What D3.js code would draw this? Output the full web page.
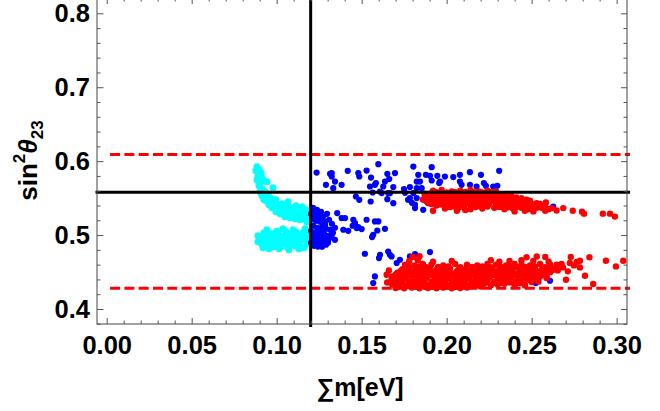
<!DOCTYPE html>
<html>
<head>
<meta charset="utf-8">
<script src="https://cdn.jsdelivr.net/npm/d3@7"></script>
<style>
  html, body { margin: 0; padding: 0; background: #fff; }
  svg { display: block; }
  text { font-family: "Liberation Sans", Arial, sans-serif; font-weight: bold; fill: #000; }
</style>
</head>
<body>
<svg id="chart" width="660" height="411"></svg>
<script>
// Axis ticks and labels
const xTicksMajor = [0.00, 0.05, 0.10, 0.15, 0.20, 0.25, 0.30];
const xTickLabels = ["0.00", "0.05", "0.10", "0.15", "0.20", "0.25", "0.30"];
const xTicksMinor = [0.01, 0.02, 0.03, 0.04, 0.06, 0.07, 0.08, 0.09, 0.11, 0.12, 0.13, 0.14,
                     0.16, 0.17, 0.18, 0.19, 0.21, 0.22, 0.23, 0.24, 0.26, 0.27, 0.28, 0.29];
const yTicksMajor = [0.4, 0.5, 0.6, 0.7, 0.8];
const yTickLabels = ["0.4", "0.5", "0.6", "0.7", "0.8"];
const yTicksMinor = [0.38, 0.42, 0.44, 0.46, 0.48, 0.52, 0.54, 0.56, 0.58,
                     0.62, 0.64, 0.66, 0.68, 0.72, 0.74, 0.76, 0.78];

// Reference lines: best-fit sum of masses / sin^2 theta23 and 3 sigma bounds
const bestFitX = [0.12];
const bestFitY = [0.558];
const sigmaBoundsY = [0.609, 0.428];

// Scan points (sum of masses [eV], sin^2 theta23)
const cyanPts = [
  [0.0884,0.5923],[0.0878,0.5869],[0.0896,0.5882],[0.0908,0.5842],[0.0890,0.5801],[0.0914,0.5774],
  [0.0884,0.5747],[0.0902,0.5720],[0.0925,0.5734],[0.0943,0.5720],[0.0978,0.5639],[0.0896,0.5666],
  [0.0914,0.5626],[0.0931,0.5585],[0.0902,0.5585],
  [0.0914,0.5531],[0.0937,0.5531],[0.0961,0.5504],[0.0925,0.5477],[0.0949,0.5450],[0.0972,0.5463],
  [0.0996,0.5477],[0.0984,0.5423],[0.1008,0.5409],[0.1031,0.5423],[0.1020,0.5369],[0.1043,0.5369],
  [0.1067,0.5382],[0.1055,0.5328],[0.1078,0.5328],[0.1102,0.5355],[0.1090,0.5288],[0.1114,0.5301],
  [0.1137,0.5315],[0.1125,0.5261],[0.1149,0.5261],[0.1167,0.5288],[0.1161,0.5220],[0.1184,0.5234],
  [0.1196,0.5261],[0.1178,0.5180],[0.1202,0.5193],[0.1020,0.5288],[0.1049,0.5247],[0.1078,0.5234],
  [0.1108,0.5220],[0.1137,0.5207],[0.0996,0.5315],[0.0972,0.5369],[0.1114,0.5396],[0.1149,0.5382],
  [0.1172,0.5342],[0.1043,0.5288],[0.1067,0.5450],[0.0949,0.5531],
  [0.0955,0.5410],[0.0985,0.5370],[0.1010,0.5330],[0.1035,0.5320],[0.1060,0.5290],[0.1095,0.5260],
  [0.1120,0.5250],[0.1155,0.5230],[0.1185,0.5200],[0.0935,0.5470],[0.1080,0.5370],[0.1150,0.5330],
  [0.0890,0.4991],[0.0890,0.4909],[0.0908,0.4950],[0.0914,0.4869],[0.0925,0.5031],[0.0931,0.4936],
  [0.0943,0.5072],[0.0949,0.4977],[0.0949,0.4869],[0.0966,0.4923],[0.0972,0.5018],[0.0984,0.4842],
  [0.0990,0.4964],[0.1002,0.4896],[0.1008,0.5031],[0.1020,0.4936],[0.1025,0.4842],[0.1037,0.5085],
  [0.1043,0.4991],[0.1049,0.4896],[0.1061,0.4950],[0.1067,0.4828],[0.1078,0.5018],[0.1084,0.4882],
  [0.1096,0.5072],[0.1102,0.4964],[0.1108,0.4855],[0.1120,0.4923],[0.1131,0.5004],[0.1137,0.4855],
  [0.1149,0.4936],[0.1155,0.5031],[0.1161,0.4828],[0.1172,0.4964],[0.1178,0.4882],[0.1190,0.5004],
  [0.1196,0.4909],[0.1131,0.4815],[0.1072,0.4801],[0.1014,0.4815],[0.0955,0.4815],[0.0920,0.4828],
  [0.1055,0.5045],[0.1114,0.5045],[0.1167,0.5085],
  [0.0905,0.4930],[0.0935,0.4990],[0.0960,0.4880],[0.0985,0.4940],[0.1010,0.4990],[0.1035,0.4880],
  [0.1060,0.4990],[0.1085,0.4930],[0.1110,0.4990],[0.1130,0.4900],[0.1160,0.4960],[0.1185,0.4940],
  [0.1000,0.5050],[0.1120,0.4850],[0.0970,0.4840]
];

const bluePts = [
  [0.1214,0.5369],[0.1237,0.5342],[0.1261,0.5315],[0.1220,0.5301],[0.1243,0.5261],[0.1273,0.5247],
  [0.1296,0.5288],[0.1208,0.5220],[0.1231,0.5193],[0.1255,0.5180],[0.1284,0.5180],[0.1308,0.5207],
  [0.1325,0.5153],[0.1214,0.5126],[0.1237,0.5099],[0.1267,0.5112],[0.1290,0.5085],[0.1314,0.5072],
  [0.1220,0.5031],[0.1243,0.5004],[0.1267,0.5031],[0.1296,0.4991],[0.1320,0.4977],[0.1208,0.4950],
  [0.1231,0.4923],[0.1255,0.4936],[0.1278,0.4909],[0.1302,0.4896],[0.1220,0.4855],[0.1243,0.4845],
  [0.1267,0.4842],[0.1290,0.4869],[0.1202,0.4896],[0.1202,0.5058],[0.1202,0.5288],[0.1343,0.5099],
  [0.1331,0.5031],[0.1249,0.4882],[0.1273,0.4964],[0.1225,0.5234],
  [0.1230,0.5270],[0.1260,0.5230],[0.1285,0.5140],[0.1250,0.5060],[0.1280,0.5010],[0.1225,0.4980],
  [0.1305,0.4940],[0.1260,0.4880],
  [0.1235,0.5846],[0.1314,0.5828],[0.1324,0.5792],[0.1343,0.5724],[0.1290,0.5680],[0.1333,0.5635],
  [0.1382,0.5680],[0.1418,0.5869],[0.1480,0.5838],[0.1486,0.5792],[0.1529,0.5873],[0.1598,0.5959],
  [0.1555,0.5778],[0.1584,0.5703],[0.1549,0.5657],[0.1565,0.5576],[0.1651,0.5828],[0.1696,0.5838],
  [0.1637,0.5724],[0.1662,0.5757],[0.1627,0.5657],[0.1608,0.5589],[0.1656,0.5568],[0.1651,0.5486],
  [0.1686,0.5432],[0.1553,0.5454],[0.1466,0.5522],[0.1486,0.5477],[0.1324,0.5838],[0.1578,0.5680],
  [0.1686,0.5649],[0.1749,0.5622],[0.1961,0.5724],[0.1667,0.5568],[0.1618,0.5568],
  [0.1804,0.5927],[0.1912,0.5919],[0.1833,0.5815],[0.1878,0.5815],[0.1902,0.5801],[0.1945,0.5801],
  [0.1990,0.5792],[0.2039,0.5784],[0.2078,0.5815],[0.2137,0.5851],[0.2202,0.5815],[0.2309,0.5869],
  [0.1824,0.5724],[0.1843,0.5724],[0.1912,0.5738],[0.1956,0.5703],[0.2078,0.5724],[0.2088,0.5680],
  [0.2137,0.5680],[0.2176,0.5657],[0.2219,0.5703],[0.2231,0.5666],[0.2274,0.5657],[0.2298,0.5666],
  [0.1784,0.5649],[0.1824,0.5635],[0.1853,0.5635],[0.1804,0.5568],[0.1784,0.5500],[0.1824,0.5500],
  [0.1872,0.5477],[0.1814,0.5365],[0.1862,0.5342],[0.1971,0.5568],[0.2245,0.5589],[0.2627,0.5386],
  [0.1892,0.5432],[0.1755,0.5572],[0.1773,0.5477],[0.1796,0.5436],[0.1814,0.5409],
  [0.1356,0.5297],[0.1382,0.5230],[0.1402,0.5230],[0.1451,0.5207],[0.1461,0.5162],[0.1529,0.5207],
  [0.1578,0.5184],[0.1598,0.5184],[0.1392,0.5072],[0.1421,0.5058],[0.1447,0.5126],[0.1471,0.5095],
  [0.1500,0.5081],[0.1480,0.5108],[0.1592,0.5062],[0.1637,0.5085],[0.1568,0.5004],[0.1561,0.4973],
  [0.1343,0.4936],[0.1324,0.5004],
  [0.1519,0.4747],[0.1608,0.4734],[0.1602,0.4689],[0.1656,0.4778],[0.1666,0.4734],[0.1676,0.4711],
  [0.1725,0.4666],[0.1784,0.4711],[0.1578,0.4441],[0.1568,0.4351],[0.1706,0.4622],[0.1814,0.4743],
  [0.1902,0.4770],[0.2524,0.4351],[0.2608,0.4382],[0.2214,0.4373]
];

const redPts = [
  // upper branch
  [0.192,0.560],[0.197,0.561],[0.203,0.559],[0.208,0.560],[0.214,0.561],[0.219,0.559],[0.224,0.560],[0.229,0.559],
  [0.194,0.558],[0.200,0.5575],[0.205,0.558],[0.211,0.5585],[0.216,0.558],[0.221,0.5575],[0.226,0.558],
  [0.187,0.556],[0.191,0.557],[0.195,0.555],[0.199,0.556],[0.203,0.557],[0.207,0.555],[0.211,0.556],[0.215,0.557],
  [0.219,0.555],[0.223,0.556],[0.227,0.557],[0.231,0.555],
  [0.190,0.554],[0.194,0.5545],[0.198,0.554],[0.202,0.5535],[0.206,0.554],[0.210,0.5545],[0.214,0.554],
  [0.218,0.5535],[0.222,0.554],[0.226,0.5545],[0.230,0.554],[0.234,0.5535],[0.238,0.554],
  [0.188,0.552],[0.192,0.553],[0.196,0.551],[0.200,0.552],[0.204,0.553],[0.208,0.551],[0.212,0.552],[0.216,0.553],
  [0.220,0.551],[0.224,0.552],[0.228,0.553],[0.232,0.551],[0.236,0.552],[0.241,0.551],
  [0.187,0.550],[0.191,0.5495],[0.195,0.550],[0.199,0.5505],[0.203,0.550],[0.207,0.5495],[0.211,0.550],
  [0.215,0.5505],[0.219,0.550],[0.223,0.5495],[0.227,0.550],[0.231,0.5505],[0.235,0.550],[0.239,0.5495],[0.244,0.550],
  [0.186,0.548],[0.190,0.549],[0.194,0.547],[0.198,0.548],[0.202,0.549],[0.206,0.547],[0.210,0.548],[0.214,0.549],
  [0.218,0.547],[0.222,0.548],[0.226,0.549],[0.230,0.547],[0.234,0.548],[0.238,0.549],[0.242,0.547],[0.247,0.548],
  [0.188,0.546],[0.192,0.5455],[0.196,0.546],[0.200,0.5465],[0.204,0.546],[0.208,0.5455],[0.212,0.546],
  [0.216,0.5465],[0.220,0.546],[0.224,0.5455],[0.228,0.546],[0.232,0.5465],[0.236,0.546],[0.240,0.5455],
  [0.244,0.546],[0.249,0.5465],
  [0.189,0.544],[0.193,0.545],[0.197,0.543],[0.201,0.544],[0.205,0.545],[0.209,0.543],[0.213,0.544],[0.217,0.545],
  [0.221,0.543],[0.225,0.544],[0.229,0.545],[0.233,0.543],[0.237,0.544],[0.241,0.545],[0.245,0.543],[0.249,0.544],
  [0.253,0.543],
  [0.191,0.542],[0.196,0.5415],[0.201,0.542],[0.206,0.5425],[0.211,0.542],[0.216,0.5415],[0.220,0.542],
  [0.225,0.5425],[0.231,0.542],[0.235,0.5415],[0.239,0.542],[0.243,0.5425],[0.247,0.542],[0.251,0.5415],[0.255,0.542],
  [0.194,0.540],[0.199,0.541],[0.204,0.539],[0.209,0.540],[0.214,0.541],[0.219,0.539],[0.224,0.540],[0.229,0.541],
  [0.233,0.539],[0.237,0.540],[0.241,0.541],[0.245,0.539],[0.249,0.540],[0.253,0.541],[0.257,0.539],
  [0.202,0.538],[0.210,0.5375],[0.217,0.538],[0.224,0.5385],[0.231,0.538],[0.236,0.5375],[0.241,0.538],
  [0.246,0.5385],[0.250,0.538],[0.254,0.5375],[0.258,0.538],
  [0.199,0.536],[0.207,0.537],[0.214,0.535],[0.221,0.536],[0.228,0.537],[0.234,0.535],[0.239,0.536],[0.244,0.537],
  [0.248,0.535],[0.252,0.536],[0.256,0.537],[0.260,0.535],
  [0.192,0.533],[0.206,0.533],[0.211,0.534],[0.240,0.532],[0.246,0.533],[0.251,0.532],[0.258,0.533],
  [0.2742,0.533],[0.2796,0.5315],[0.2808,0.529],[0.2919,0.529],[0.2961,0.529],[0.2990,0.525],
  [0.2686,0.5365],[0.2647,0.5332],[0.2584,0.544],[0.2618,0.5365],[0.2449,0.5454],
  // lower branch
  [0.170,0.4285],[0.175,0.428],[0.1795,0.429],[0.184,0.428],[0.189,0.4285],[0.194,0.428],[0.198,0.429],
  [0.203,0.428],[0.208,0.4285],[0.212,0.429],
  [0.172,0.4305],[0.177,0.431],[0.182,0.4305],[0.187,0.430],[0.191,0.4305],[0.196,0.431],[0.200,0.4305],
  [0.205,0.430],[0.210,0.4305],[0.215,0.431],[0.220,0.4305],
  [0.168,0.433],[0.172,0.434],[0.176,0.432],[0.181,0.433],[0.185,0.434],[0.189,0.432],[0.193,0.433],[0.197,0.434],
  [0.201,0.432],[0.205,0.433],[0.209,0.434],[0.213,0.432],[0.218,0.433],[0.222,0.434],[0.226,0.432],[0.230,0.433],
  [0.234,0.434],[0.240,0.432],[0.246,0.433],
  [0.170,0.4355],[0.174,0.436],[0.178,0.435],[0.183,0.4355],[0.187,0.436],[0.191,0.435],[0.195,0.4355],
  [0.199,0.436],[0.203,0.435],[0.207,0.4355],[0.211,0.436],[0.216,0.435],[0.220,0.4355],[0.224,0.436],
  [0.228,0.435],[0.232,0.4355],[0.237,0.436],[0.243,0.435],
  [0.170,0.438],[0.174,0.439],[0.178,0.437],[0.182,0.438],[0.186,0.439],[0.191,0.437],[0.195,0.438],[0.199,0.439],
  [0.203,0.437],[0.207,0.438],[0.211,0.439],[0.215,0.437],[0.219,0.438],[0.223,0.439],[0.228,0.437],[0.232,0.438],
  [0.236,0.439],[0.240,0.437],[0.244,0.438],[0.249,0.439],[0.254,0.437],
  [0.172,0.441],[0.176,0.4415],[0.180,0.4405],[0.184,0.441],[0.188,0.4415],[0.193,0.4405],[0.197,0.441],
  [0.201,0.4415],[0.205,0.4405],[0.209,0.441],[0.213,0.4415],[0.217,0.4405],[0.221,0.441],[0.225,0.4415],
  [0.230,0.4405],[0.234,0.441],[0.238,0.4415],[0.242,0.4405],[0.247,0.441],[0.252,0.4415],
  [0.168,0.444],[0.172,0.443],[0.176,0.445],[0.181,0.444],[0.185,0.443],[0.189,0.445],[0.193,0.444],[0.197,0.443],
  [0.201,0.445],[0.205,0.444],[0.209,0.443],[0.213,0.445],[0.218,0.444],[0.222,0.443],[0.226,0.445],[0.230,0.444],
  [0.234,0.443],[0.238,0.445],[0.242,0.444],[0.246,0.443],[0.250,0.445],[0.255,0.444],[0.259,0.443],
  [0.170,0.4465],[0.174,0.447],[0.178,0.446],[0.183,0.4465],[0.187,0.447],[0.191,0.446],[0.195,0.4465],
  [0.199,0.447],[0.203,0.446],[0.207,0.4465],[0.211,0.447],[0.215,0.446],[0.220,0.4465],[0.224,0.447],
  [0.228,0.446],[0.232,0.4465],[0.236,0.447],[0.240,0.446],[0.244,0.4465],[0.248,0.447],[0.253,0.446],[0.257,0.4465],
  [0.171,0.449],[0.175,0.450],[0.179,0.448],[0.183,0.449],[0.187,0.450],[0.191,0.448],[0.195,0.449],[0.199,0.450],
  [0.204,0.448],[0.208,0.449],[0.212,0.450],[0.216,0.448],[0.220,0.449],[0.224,0.450],[0.228,0.448],[0.232,0.449],
  [0.236,0.450],[0.241,0.448],[0.245,0.449],[0.249,0.450],[0.253,0.448],[0.257,0.449],[0.261,0.450],
  [0.173,0.4515],[0.177,0.452],[0.181,0.451],[0.185,0.4515],[0.189,0.452],[0.193,0.451],[0.197,0.4515],
  [0.201,0.452],[0.206,0.451],[0.210,0.4515],[0.214,0.452],[0.218,0.451],[0.222,0.4515],[0.226,0.452],
  [0.230,0.451],[0.234,0.4515],[0.238,0.452],[0.243,0.451],[0.247,0.4515],[0.251,0.452],[0.255,0.451],[0.259,0.4515],
  [0.174,0.454],[0.178,0.455],[0.182,0.453],[0.186,0.454],[0.190,0.455],[0.194,0.453],[0.198,0.454],[0.202,0.455],
  [0.207,0.453],[0.211,0.454],[0.215,0.455],[0.219,0.453],[0.223,0.454],[0.227,0.455],[0.231,0.453],[0.235,0.454],
  [0.239,0.455],[0.243,0.453],[0.248,0.454],[0.252,0.455],[0.256,0.453],[0.260,0.454],[0.264,0.455],
  [0.178,0.457],[0.184,0.4575],[0.188,0.4565],[0.195,0.457],[0.201,0.4575],[0.208,0.4565],[0.215,0.457],
  [0.221,0.4575],[0.226,0.4565],[0.232,0.457],[0.237,0.4575],[0.242,0.4565],[0.246,0.457],[0.252,0.4575],[0.258,0.4565],
  [0.1755,0.460],[0.181,0.459],[0.186,0.461],[0.191,0.460],[0.198,0.459],[0.205,0.461],[0.212,0.460],[0.218,0.459],
  [0.224,0.461],[0.229,0.460],[0.235,0.459],[0.240,0.461],[0.244,0.460],[0.249,0.459],[0.255,0.461],[0.261,0.460],
  [0.265,0.459],
  [0.178,0.465],[0.183,0.466],[0.192,0.464],[0.203,0.465],[0.226,0.466],[0.231,0.464],[0.237,0.465],[0.244,0.466],
  [0.251,0.465],[0.260,0.464],
  [0.180,0.4705],[0.184,0.4715],[0.247,0.470],[0.253,0.471],[0.258,0.4705],[0.273,0.4705],[0.284,0.470],
  [0.2627,0.4531],[0.2647,0.4599],[0.2676,0.4608],[0.2725,0.4622],[0.2765,0.4635],[0.2784,0.4653],[0.2814,0.4450],
  [0.2937,0.4653],[0.2996,0.4576],[0.3039,0.4653],[0.2862,0.4338],[0.2702,0.4396],[0.2588,0.4419],[0.2539,0.4419],
  [0.2500,0.4365],[0.2402,0.4328],[0.2461,0.4319],[0.2684,0.4563],[0.2713,0.4509],[0.2749,0.4590],[0.2784,0.4563],
  [0.2654,0.4522],
  [0.1647,0.4464],[0.1676,0.4396],[0.1660,0.4520],[0.1650,0.4360]
];

const svg = d3.select("#chart");
const frame = { left: 97, right: 627, top: -2, bottom: 324 };

const x = d3.scaleLinear().domain([-0.0057, 0.3061]).range([frame.left, frame.right]);
const y = d3.scaleLinear().domain([0.3797, 0.8207]).range([frame.bottom, frame.top]);

// Scatter layers: cyan below, then blue, then red
const layers = [
  { pts: cyanPts, color: "#00ffff", r: 3.5 },
  { pts: bluePts, color: "#0000ff", r: 3.1 },
  { pts: redPts,  color: "#ff0000", r: 3.2 }
];
layers.forEach(layer => {
  svg.append("g")
    .selectAll("circle")
    .data(layer.pts)
    .join("circle")
    .attr("cx", d => x(d[0]))
    .attr("cy", d => y(d[1]))
    .attr("r", layer.r)
    .attr("fill", layer.color);
});

// Dashed 3 sigma bounds
svg.append("g")
  .selectAll("line")
  .data(sigmaBoundsY)
  .join("line")
  .attr("x1", x(0.002))
  .attr("x2", frame.right + 3)
  .attr("y1", d => y(d))
  .attr("y2", d => y(d))
  .attr("stroke", "#ff0000")
  .attr("stroke-width", 3)
  .attr("stroke-dasharray", "10,4.3");

// Best-fit lines
svg.append("g")
  .selectAll("line")
  .data(bestFitY)
  .join("line")
  .attr("x1", frame.left - 1.5)
  .attr("x2", frame.right + 3)
  .attr("y1", d => y(d))
  .attr("y2", d => y(d))
  .attr("stroke", "#000")
  .attr("stroke-width", 3);

svg.append("g")
  .selectAll("line")
  .data(bestFitX)
  .join("line")
  .attr("x1", d => x(d))
  .attr("x2", d => x(d))
  .attr("y1", frame.top)
  .attr("y2", frame.bottom + 3)
  .attr("stroke", "#000")
  .attr("stroke-width", 3);

// Frame
svg.append("rect")
  .attr("x", frame.left)
  .attr("y", frame.top)
  .attr("width", frame.right - frame.left)
  .attr("height", frame.bottom - frame.top)
  .attr("fill", "none")
  .attr("stroke", "#444")
  .attr("stroke-width", 1);

const tickColor = "#555";
function styleAxis(g) {
  g.select(".domain").remove();
  g.selectAll(".tick line").attr("stroke", tickColor).attr("stroke-width", 1);
  g.selectAll(".tick text").attr("font-size", 25.5).attr("font-weight", "bold")
    .attr("font-family", "'Liberation Sans', Arial, sans-serif").attr("fill", "#000");
}

// Bottom axis (labelled) + minor ticks
svg.append("g").attr("transform", `translate(0,${frame.bottom})`)
  .call(d3.axisBottom(x).tickValues(xTicksMajor).tickFormat((d, i) => xTickLabels[i])
    .tickSize(-6).tickSizeOuter(0).tickPadding(12))
  .call(styleAxis);
svg.append("g").attr("transform", `translate(0,${frame.bottom})`)
  .call(d3.axisBottom(x).tickValues(xTicksMinor).tickFormat("").tickSize(-3.5).tickSizeOuter(0))
  .call(styleAxis);

// Top axis ticks
svg.append("g").attr("transform", `translate(0,${frame.top})`)
  .call(d3.axisTop(x).tickValues(xTicksMajor).tickFormat("").tickSize(-6).tickSizeOuter(0))
  .call(styleAxis);
svg.append("g").attr("transform", `translate(0,${frame.top})`)
  .call(d3.axisTop(x).tickValues(xTicksMinor).tickFormat("").tickSize(-3.5).tickSizeOuter(0))
  .call(styleAxis);

// Left axis (labelled) + minor ticks
svg.append("g").attr("transform", `translate(${frame.left},0)`)
  .call(d3.axisLeft(y).tickValues(yTicksMajor).tickFormat((d, i) => yTickLabels[i])
    .tickSize(-6.5).tickSizeOuter(0).tickPadding(7))
  .call(styleAxis);
svg.append("g").attr("transform", `translate(${frame.left},0)`)
  .call(d3.axisLeft(y).tickValues(yTicksMinor).tickFormat("").tickSize(-3.5).tickSizeOuter(0))
  .call(styleAxis);

// Right axis ticks
svg.append("g").attr("transform", `translate(${frame.right},0)`)
  .call(d3.axisRight(y).tickValues(yTicksMajor).tickFormat("").tickSize(-6).tickSizeOuter(0))
  .call(styleAxis);
svg.append("g").attr("transform", `translate(${frame.right},0)`)
  .call(d3.axisRight(y).tickValues(yTicksMinor).tickFormat("").tickSize(-3.5).tickSizeOuter(0))
  .call(styleAxis);

// Axis titles
svg.append("text")
  .attr("x", (frame.left + frame.right) / 2 - 2)
  .attr("y", 396)
  .attr("text-anchor", "middle")
  .attr("font-size", 25)
  .text("∑m[eV]");

const yTitle = svg.append("text")
  .attr("transform", "translate(37,160.5) rotate(-90)")
  .attr("text-anchor", "middle")
  .attr("font-size", 26);
yTitle.append("tspan").text("sin");
yTitle.append("tspan").attr("dy", -12).attr("font-size", 17).text("2");
yTitle.append("tspan").attr("dy", 12).attr("font-style", "italic").text("θ");
yTitle.append("tspan").attr("dy", 6).attr("font-size", 17).text("23");
</script>
</body>
</html>
